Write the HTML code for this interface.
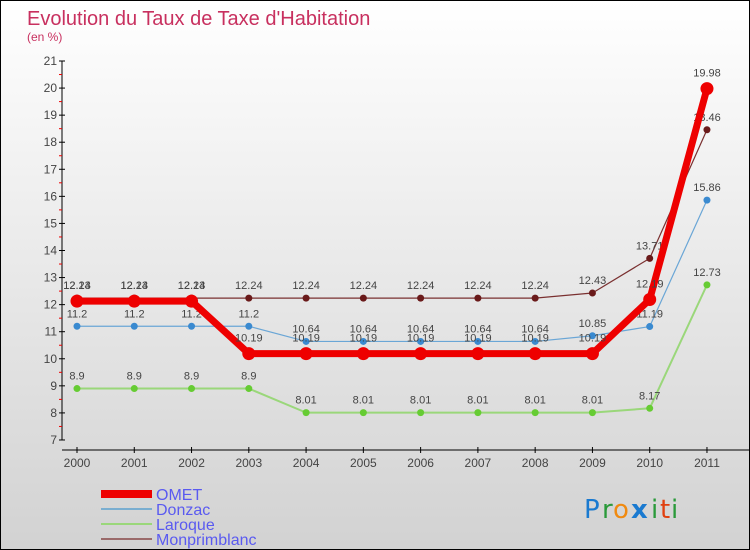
<!DOCTYPE html>
<html><head><meta charset="utf-8"><style>
body{margin:0}
#c{width:748px;height:548px;border:1px solid #000;background:linear-gradient(#fff,#d2d2d2);position:relative;font-family:"Liberation Sans",sans-serif;overflow:hidden}
</style></head><body>
<div id="c">
<svg id="s" width="748" height="548" xmlns="http://www.w3.org/2000/svg">
<text x="26" y="24" font-size="20" fill="#c8305f">Evolution du Taux de Taxe d'Habitation</text>
<text x="26" y="40" font-size="12" fill="#c8305f">(en %)</text>
<g id="axes"></g><g id="series"></g>
<g>
<rect x="100" y="489" width="51" height="8" fill="#e00"/>
<text x="155" y="499" font-size="16" fill="#5a5af0">OMET</text>
<rect x="100" y="507" width="51" height="2" fill="#7aaed0"/>
<text x="155" y="514" font-size="16" fill="#5a5af0">Donzac</text>
<rect x="100" y="522" width="51" height="2" fill="#9ad77a"/>
<text x="155" y="529" font-size="16" fill="#5a5af0">Laroque</text>
<rect x="100" y="537" width="51" height="2" fill="#9a6a6a"/>
<text x="155" y="544" font-size="16" fill="#5a5af0">Monprimblanc</text>
</g>
<g font-size="26" font-family="'DejaVu Sans',sans-serif">
<text x="583" y="517" fill="#1a7ad0">P</text><text x="601" y="517" fill="#2a9a3a">r</text><text x="612" y="517" fill="#f08a10">o</text><text x="630" y="517" fill="#1a7ad0" font-weight="bold">x</text><text x="650" y="517" fill="#2a9a3a">i</text><text x="659" y="517" fill="#e04010">t</text><text x="670" y="517" fill="#2a9a3a">i</text>
</g>
</svg></div>
<script>
const years=["2000","2001","2002","2003","2004","2005","2006","2007","2008","2009","2010","2011"];
const omet=[12.13,12.13,12.13,10.19,10.19,10.19,10.19,10.19,10.19,10.19,12.19,19.98];
const donzac=[11.2,11.2,11.2,11.2,10.64,10.64,10.64,10.64,10.64,10.85,11.19,15.86];
const laroque=[8.9,8.9,8.9,8.9,8.01,8.01,8.01,8.01,8.01,8.01,8.17,12.73];
const monprimblanc=[12.24,12.24,12.24,12.24,12.24,12.24,12.24,12.24,12.24,12.43,13.71,18.46];
const yTicks=[7,8,9,10,11,12,13,14,15,16,17,18,19,20,21];
const NS="http://www.w3.org/2000/svg";
const X=i=>76+i*57.27, Y=v=>60+(21-v)*27.07;
function mk(p,t,a){const e=document.createElementNS(NS,t);for(const k in a)e.setAttribute(k,a[k]);p.appendChild(e);return e;}
const ax=document.getElementById('axes');
let l=mk(ax,'line',{x1:61,y1:60,x2:61,y2:439,stroke:'#000'});


l=mk(ax,'line',{x1:61,y1:449,x2:748,y2:449,stroke:'#000'});


yTicks.forEach(v=>{
 mk(ax,'line',{x1:58,y1:Y(v),x2:64,y2:Y(v),stroke:'#000'});
 if(v<21) mk(ax,'line',{x1:58,y1:Y(v+0.5),x2:61,y2:Y(v+0.5),stroke:'#e00'});
 const t=mk(ax,'text',{x:56,y:Y(v)+4,'font-size':12,fill:'#444','text-anchor':'end'});t.textContent=v;
 
 
});
years.forEach((y,i)=>{
 mk(ax,'line',{x1:X(i),y1:446,x2:X(i),y2:452,stroke:'#000'});
 const t=mk(ax,'text',{x:X(i),y:466,'font-size':12,fill:'#444','text-anchor':'middle'});t.textContent=y;
 
 
});
const sg=document.getElementById('series');
function draw(d,name,color,w,r,dot){
 const g=mk(sg,'g',{});
 
 
 mk(g,'polyline',{points:d.map((v,i)=>X(i)+','+Y(v)).join(' '),fill:'none',stroke:color,'stroke-width':w,'stroke-linejoin':'round'});
 d.forEach((v,i)=>{
  const c=mk(g,'circle',{cx:X(i),cy:Y(v),r:r,fill:dot});
  
  
  const t=mk(g,'text',{x:X(i),y:Y(v)-9-(r>4?3:0),'font-size':11,fill:'#444','text-anchor':'middle'});t.textContent=v;
  
  
 });
}
draw(laroque,'laroque','#9ad77a',2,3.5,'#6c3');
draw(donzac,'donzac','#6aa6d6',1.2,3.5,'#3a8ad0');
draw(monprimblanc,'monprimblanc','#7a3030',1.2,3.5,'#6a1a1a');
draw(omet,'omet','#e00',7,6.5,'#e00');
</script>
</body></html>
